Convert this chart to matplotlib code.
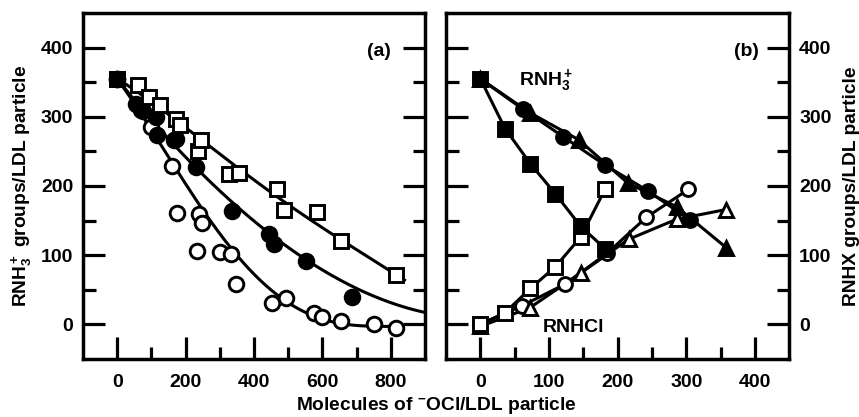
import numpy as np
import matplotlib
matplotlib.use("Agg")
import matplotlib.pyplot as plt

plt.rcParams['font.family'] = ['Liberation Sans', 'DejaVu Sans']
plt.rcParams['font.weight'] = 'bold'
plt.rcParams['mathtext.fontset'] = 'custom'
plt.rcParams['mathtext.rm'] = 'Liberation Sans:bold'
plt.rcParams['mathtext.it'] = 'Liberation Sans:bold'
plt.rcParams['mathtext.bf'] = 'Liberation Sans:bold'
plt.rcParams['mathtext.default'] = 'rm'

# ---------------- Panel (a) data ----------------
a_ctrl_x = [0]
a_ctrl_y = [355]

a_sq_x = [0, 60, 93, 125, 171, 185, 236, 244, 327, 356, 468, 488, 585, 653, 814]
a_sq_y = [355, 346, 329, 317, 297, 288, 251, 267, 218, 219, 196, 165, 162, 121, 72]

a_fc_x = [0, 54, 75, 112, 117, 166, 171, 229, 336, 444, 458, 551, 688]
a_fc_y = [355, 319, 308, 300, 273, 266, 268, 227, 164, 131, 116, 92, 39]

a_oc_x = [0, 70, 100, 161, 176, 234, 239, 249, 302, 332, 346, 454, 493, 575, 600, 653, 751, 814]
a_oc_y = [355, 310, 285, 229, 161, 106, 160, 147, 104, 102, 58, 31, 38, 17, 10, 5, 0, -5]

# fitted-curve readings (from the drawn curves)
a_sq_curve_x = [0, 100, 200, 300, 400, 500, 600, 700, 840]
a_sq_curve_y = [355, 322, 284, 246, 210, 172, 140, 108, 64]
a_fc_curve_x = [0, 100, 200, 300, 400, 500, 600, 700, 800, 900]
a_fc_curve_y = [355, 295, 242, 193, 150, 111, 78, 52, 32, 17]
a_oc_curve_x = [0, 100, 200, 300, 400, 500, 600, 700, 820]
a_oc_curve_y = [355, 280, 205, 130, 72, 32, 8, -2, -3]

# ---------------- Panel (b) data ----------------
b_fsq_x = [0, 36, 73, 109, 146, 182]
b_fsq_y = [355, 283, 232, 189, 142, 109]
b_osq_x = [0, 36, 73, 109, 146, 182]
b_osq_y = [0, 17, 52, 83, 126, 196]
b_fc_x = [0, 62, 121, 182, 244, 305]
b_fc_y = [355, 311, 271, 230, 193, 151]
b_oc_x = [0, 61, 123, 185, 242, 303]
b_oc_y = [0, 27, 58, 103, 155, 195]
b_ft_x = [0, 72, 143, 215, 286, 358]
b_ft_y = [355, 306, 267, 204, 170, 111]
b_ot_x = [0, 72, 146, 216, 286, 358]
b_ot_y = [-3, 24, 74, 123, 152, 166]

# ---------------- figure ----------------
fig = plt.figure(figsize=(8.59, 4.17), dpi=100)
axa = fig.add_axes([83/859, 1-359/417, (425-83)/859, (359-13)/417])
axb = fig.add_axes([446/859, 1-359/417, (789.3-446)/859, (359-13)/417])

LW = 2.2
MEW = 2.1
FS = 14
LFS = 13.8

def style(ax, xmajor, xminor):
    for s in ax.spines.values():
        s.set_linewidth(2.5)
    ax.set_ylim(-50, 450)
    ax.set_yticks([0, 100, 200, 300, 400])
    ax.set_yticks([50, 150, 250, 350], minor=True)
    ax.set_xticks(xmajor)
    ax.set_xticks(xminor, minor=True)
    ax.tick_params(which='major', direction='in', length=16, width=2.3,
                   labelsize=FS, pad=7, left=True, right=True, top=False, bottom=True)
    ax.tick_params(which='minor', direction='in', length=9, width=2.3,
                   left=True, right=True, top=False, bottom=True)
    ax.tick_params(axis='x', which='major', pad=11)
    for lab in ax.get_xticklabels() + ax.get_yticklabels():
        lab.set_fontweight('bold')

# Panel (a)
axa.set_xlim(-100, 900)
style(axa, [0, 200, 400, 600, 800], [100, 300, 500, 700])
for cx, cy in [(a_sq_curve_x, a_sq_curve_y), (a_fc_curve_x, a_fc_curve_y),
               (a_oc_curve_x, a_oc_curve_y)]:
    p = np.polyfit(cx, cy, 4)
    xs = np.linspace(cx[0], cx[-1], 300)
    axa.plot(xs, np.polyval(p, xs), color='black', lw=LW, zorder=2)

axa.plot(a_oc_x, a_oc_y, 'o', ms=10.5, mfc='white', mec='black', mew=MEW, ls='none', zorder=3)
axa.plot(a_fc_x, a_fc_y, 'o', ms=10.5, mfc='black', mec='black', mew=MEW, ls='none', zorder=3)
axa.plot(a_sq_x, a_sq_y, 's', ms=9.5, mfc='white', mec='black', mew=MEW, ls='none', zorder=3)
axa.plot(a_ctrl_x, a_ctrl_y, 's', ms=10, mfc='black', mec='black', mew=MEW, ls='none', zorder=4)
axa.text(800, 394, '(a)', ha='right', va='center', fontsize=FS, fontweight='bold')
axa.set_ylabel(r'RNH$_3^+$ groups/LDL particle', fontsize=LFS, fontweight='bold', labelpad=5)

# Panel (b)
axb.set_xlim(-50, 450)
style(axb, [0, 100, 200, 300, 400], [50, 150, 250, 350])
axb.tick_params(axis='y', which='both', labelleft=False, labelright=True)
axb.yaxis.set_label_position('right')
axb.set_ylabel('RNHX groups/LDL particle', fontsize=LFS, fontweight='bold', labelpad=8)

axb.plot(b_fc_x, b_fc_y, '-', color='black', lw=LW, zorder=2)
axb.plot(b_ft_x, b_ft_y, '-', color='black', lw=LW, zorder=2)
axb.plot(b_fsq_x, b_fsq_y, '-', color='black', lw=LW, zorder=2)
axb.plot(b_osq_x, b_osq_y, '-', color='black', lw=LW, zorder=2)
axb.plot(b_oc_x, b_oc_y, '-', color='black', lw=LW, zorder=2)
axb.plot(b_ot_x, b_ot_y, '-', color='black', lw=LW, zorder=2)

axb.plot(b_ft_x, b_ft_y, '^', ms=10, mfc='black', mec='black', mew=MEW, ls='none', zorder=3)
axb.plot(b_fc_x, b_fc_y, 'o', ms=10, mfc='black', mec='black', mew=MEW, ls='none', zorder=3)
axb.plot(b_oc_x, b_oc_y, 'o', ms=10, mfc='white', mec='black', mew=MEW, ls='none', zorder=3)
axb.plot(b_ot_x, b_ot_y, '^', ms=10, mfc='white', mec='black', mew=MEW, ls='none', zorder=3)
axb.plot(b_osq_x, b_osq_y, 's', ms=9.5, mfc='white', mec='black', mew=MEW, ls='none', zorder=3)
axb.plot(b_fsq_x, b_fsq_y, 's', ms=9.5, mfc='black', mec='black', mew=MEW, ls='none', zorder=4)

axb.text(388, 394, '(b)', ha='center', va='center', fontsize=FS, fontweight='bold')
axb.text(57, 353, r'RNH$_3^+$', ha='left', va='center', fontsize=FS, fontweight='bold')
axb.text(91, -5, 'RNHCl', ha='left', va='center', fontsize=FS, fontweight='bold')

fig.text(436/859, 1-405/417, r'Molecules of $^{-}$OCl/LDL particle', ha='center', va='center',
         fontsize=LFS, fontweight='bold')

fig.savefig('out.png', dpi=100)
